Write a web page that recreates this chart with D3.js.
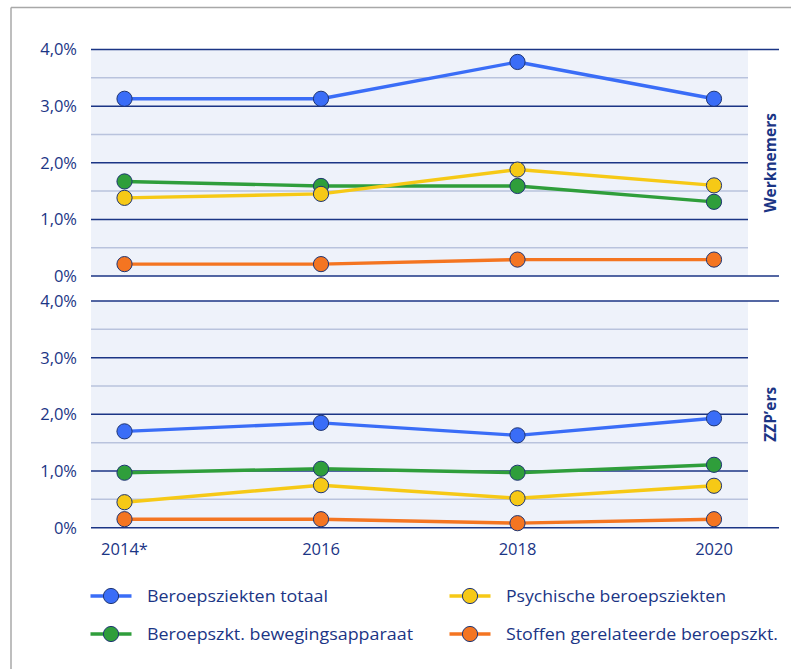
<!DOCTYPE html>
<html>
<head>
<meta charset="utf-8">
<script src="https://cdn.jsdelivr.net/npm/d3@7"></script>
<style>
  html, body { margin: 0; padding: 0; background: #ffffff; }
  svg { display: block; }
  .tick-label { font-family: "Open Sans", "DejaVu Sans", sans-serif; font-size: 16.5px; fill: #1b3585; }
  .legend-label { font-family: "Open Sans", "DejaVu Sans", sans-serif; font-size: 16.5px; fill: #1b3585; }
  .panel-title { font-family: "Open Sans", "DejaVu Sans", sans-serif; font-size: 15.5px; font-weight: 700; fill: #1b3585; }
</style>
</head>
<body>
<script>
// Years on the x axis
const years = ["2014*", "2016", "2018", "2020"];

// Werknemers (employees), share in %
const werknemersTotaal     = [3.13, 3.13, 3.78, 3.13];
const werknemersPsychisch  = [1.38, 1.45, 1.88, 1.60];
const werknemersBeweging   = [1.67, 1.59, 1.59, 1.31];
const werknemersStoffen    = [0.21, 0.21, 0.29, 0.29];

// ZZP'ers (self-employed), share in %
const zzpTotaal     = [1.70, 1.85, 1.63, 1.93];
const zzpPsychisch  = [0.45, 0.75, 0.52, 0.74];
const zzpBeweging   = [0.97, 1.04, 0.97, 1.11];
const zzpStoffen    = [0.15, 0.15, 0.08, 0.15];

// Y ticks
const majorTicks = [0, 1, 2, 3, 4];
const minorTicks = [0.5, 1.5, 2.5, 3.5];
const tickLabels = ["0%", "1,0%", "2,0%", "3,0%", "4,0%"];

// Series names and colours
const seriesNames = [
  "Beroepsziekten totaal",
  "Psychische beroepsziekten",
  "Beroepszkt. bewegingsapparaat",
  "Stoffen gerelateerde beroepszkt."
];
const seriesColors = ["#3a6df7", "#f6c916", "#2f9e3b", "#f47521"];

const panels = [
  { title: "Werknemers", series: [werknemersTotaal, werknemersPsychisch, werknemersBeweging, werknemersStoffen], top: 49.5, bottom: 276 },
  { title: "ZZP\u2019ers",  series: [zzpTotaal, zzpPsychisch, zzpBeweging, zzpStoffen], top: 301, bottom: 527.7 }
];

const W = 791, H = 669;
const plotLeft = 91, plotRight = 748, lineRight = 779;
const navy = "#1b3585";

const svg = d3.select("body").append("svg").attr("width", W).attr("height", H);

// outer frame (top and left edges)
svg.append("line").attr("x1", 11).attr("x2", W).attr("y1", 7.5).attr("y2", 7.5)
  .attr("stroke", "#a8a8a8").attr("stroke-width", 1.5);
svg.append("line").attr("x1", 11).attr("x2", 11).attr("y1", 7.5).attr("y2", H)
  .attr("stroke", "#a8a8a8").attr("stroke-width", 1.5);

const x = d3.scalePoint().domain(years).range([124.5, 714]);

panels.forEach((p, pi) => {
  const y = d3.scaleLinear().domain([0, 4]).range([p.bottom, p.top]);
  const g = svg.append("g");

  g.append("rect")
    .attr("x", plotLeft).attr("y", y(4))
    .attr("width", plotRight - plotLeft).attr("height", y(0) - y(4))
    .attr("fill", "#eef2fa");

  g.selectAll(".minor").data(minorTicks).join("line")
    .attr("x1", plotLeft).attr("x2", plotRight)
    .attr("y1", d => y(d)).attr("y2", d => y(d))
    .attr("stroke", "#b9c3dd").attr("stroke-width", 1.5);

  g.selectAll(".major").data(majorTicks).join("line")
    .attr("x1", plotLeft)
    .attr("x2", d => (d === 0 || d === 4) ? lineRight : plotRight)
    .attr("y1", d => y(d)).attr("y2", d => y(d))
    .attr("stroke", navy).attr("stroke-width", 1.5);

  g.selectAll(".ylab").data(majorTicks).join("text")
    .attr("class", "tick-label")
    .attr("x", 77).attr("y", d => y(d))
    .attr("dy", "0.36em")
    .attr("text-anchor", "end")
    .text((d, i) => tickLabels[i]);

  g.append("text")
    .attr("class", "panel-title")
    .attr("transform", `translate(775.5,${(y(0) + y(4)) / 2}) rotate(-90)`)
    .attr("text-anchor", "middle")
    .text(p.title);

  const line = d3.line().x((d, i) => x(years[i])).y(d => y(d));

  // lines first, then markers on top; draw in stacking order
  const order = [3, 2, 1, 0];
  order.forEach(si => {
    g.append("path")
      .datum(p.series[si])
      .attr("d", line)
      .attr("fill", "none")
      .attr("stroke", seriesColors[si])
      .attr("stroke-width", 3.4)
      .attr("stroke-linejoin", "round");
  });
  order.forEach(si => {
    g.selectAll(null).data(p.series[si]).join("circle")
      .attr("cx", (d, i) => x(years[i]))
      .attr("cy", d => y(d))
      .attr("r", 7.6)
      .attr("fill", seriesColors[si])
      .attr("stroke", "#1f3573")
      .attr("stroke-width", 1);
  });

  if (pi === 1) {
    g.selectAll(".xlab").data(years).join("text")
      .attr("class", "tick-label")
      .attr("x", d => x(d))
      .attr("y", 549)
      .attr("dy", "0.36em")
      .attr("text-anchor", "middle")
      .text(d => d);
  }
});

// legend, two columns x two rows
const legendItems = [
  { idx: 0, cx: 111, cy: 596, w: 181 },
  { idx: 1, cx: 470, cy: 596, w: 220 },
  { idx: 2, cx: 111, cy: 634, w: 266 },
  { idx: 3, cx: 470, cy: 634, w: 272 }
];
const lg = svg.append("g");
legendItems.forEach(it => {
  lg.append("line")
    .attr("x1", it.cx - 20.5).attr("x2", it.cx + 20.5)
    .attr("y1", it.cy).attr("y2", it.cy)
    .attr("stroke", seriesColors[it.idx]).attr("stroke-width", 3.4);
  lg.append("circle")
    .attr("cx", it.cx).attr("cy", it.cy).attr("r", 7.6)
    .attr("fill", seriesColors[it.idx])
    .attr("stroke", "#1f3573").attr("stroke-width", 1);
  lg.append("text")
    .attr("class", "legend-label")
    .attr("x", it.cx + 36).attr("y", it.cy)
    .attr("dy", "0.35em")
    .attr("textLength", it.w)
    .attr("lengthAdjust", "spacingAndGlyphs")
    .text(seriesNames[it.idx]);
});
</script>
</body>
</html>
